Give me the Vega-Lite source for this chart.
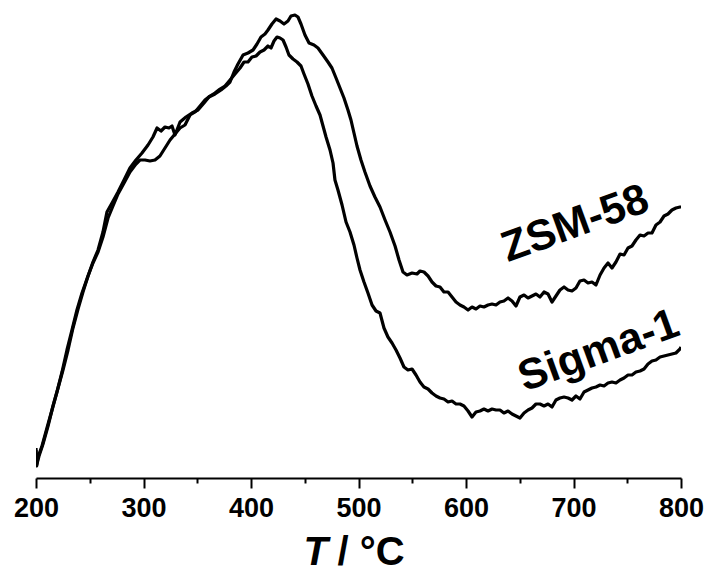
{
  "$schema": "https://vega.github.io/schema/vega-lite/v6.json",
  "autosize": {"type": "none"},
  "width": 645,
  "height": 478,
  "padding": {"left": 36, "top": 0, "right": 27, "bottom": 95},
  "background": "white",
  "config": {"view": {"stroke": null}, "font": "Liberation Sans"},
  "datasets": {
    "curves": [
      {"series":"ZSM-58","T":200.0,"v":28},{"series":"ZSM-58","T":200.6,"v":12},{"series":"ZSM-58","T":201.9,"v":21},{"series":"ZSM-58","T":205.6,"v":32},{"series":"ZSM-58","T":210.2,"v":50},{"series":"ZSM-58","T":214.9,"v":68},{"series":"ZSM-58","T":219.5,"v":86},{"series":"ZSM-58","T":224.2,"v":106},{"series":"ZSM-58","T":228.8,"v":128},{"series":"ZSM-58","T":233.5,"v":148},{"series":"ZSM-58","T":238.1,"v":168},{"series":"ZSM-58","T":242.8,"v":185},{"series":"ZSM-58","T":248.4,"v":202},{"series":"ZSM-58","T":253.0,"v":216},{"series":"ZSM-58","T":257.7,"v":228},{"series":"ZSM-58","T":262.3,"v":246},{"series":"ZSM-58","T":266.0,"v":266},{"series":"ZSM-58","T":270.7,"v":275},{"series":"ZSM-58","T":276.3,"v":286},{"series":"ZSM-58","T":281.9,"v":298},{"series":"ZSM-58","T":287.4,"v":310},{"series":"ZSM-58","T":293.0,"v":318},{"series":"ZSM-58","T":298.6,"v":325},{"series":"ZSM-58","T":304.2,"v":333},{"series":"ZSM-58","T":308.8,"v":341},{"series":"ZSM-58","T":312.6,"v":350},{"series":"ZSM-58","T":316.3,"v":347},{"series":"ZSM-58","T":320.0,"v":351},{"series":"ZSM-58","T":323.7,"v":350},{"series":"ZSM-58","T":326.5,"v":352},{"series":"ZSM-58","T":329.3,"v":343},{"series":"ZSM-58","T":334.0,"v":356},{"series":"ZSM-58","T":339.5,"v":361},{"series":"ZSM-58","T":345.1,"v":365},{"series":"ZSM-58","T":350.7,"v":368},{"series":"ZSM-58","T":356.3,"v":375},{"series":"ZSM-58","T":360.9,"v":381},{"series":"ZSM-58","T":366.5,"v":384},{"series":"ZSM-58","T":372.1,"v":388},{"series":"ZSM-58","T":376.7,"v":392},{"series":"ZSM-58","T":380.5,"v":396},{"series":"ZSM-58","T":384.2,"v":406},{"series":"ZSM-58","T":387.9,"v":414},{"series":"ZSM-58","T":392.6,"v":423},{"series":"ZSM-58","T":397.2,"v":425},{"series":"ZSM-58","T":401.9,"v":428},{"series":"ZSM-58","T":405.6,"v":434},{"series":"ZSM-58","T":409.3,"v":441},{"series":"ZSM-58","T":413.0,"v":444},{"series":"ZSM-58","T":415.8,"v":448},{"series":"ZSM-58","T":419.5,"v":454},{"series":"ZSM-58","T":423.3,"v":459},{"series":"ZSM-58","T":427.0,"v":457},{"series":"ZSM-58","T":430.7,"v":454},{"series":"ZSM-58","T":434.4,"v":457},{"series":"ZSM-58","T":437.2,"v":462},{"series":"ZSM-58","T":440.9,"v":463},{"series":"ZSM-58","T":443.7,"v":461},{"series":"ZSM-58","T":446.5,"v":454},{"series":"ZSM-58","T":450.2,"v":443},{"series":"ZSM-58","T":454.0,"v":435},{"series":"ZSM-58","T":458.6,"v":433},{"series":"ZSM-58","T":462.3,"v":430},{"series":"ZSM-58","T":467.0,"v":423},{"series":"ZSM-58","T":471.6,"v":416},{"series":"ZSM-58","T":475.3,"v":410},{"series":"ZSM-58","T":479.1,"v":400},{"series":"ZSM-58","T":482.8,"v":390},{"series":"ZSM-58","T":486.5,"v":380},{"series":"ZSM-58","T":490.2,"v":368},{"series":"ZSM-58","T":493.0,"v":358},{"series":"ZSM-58","T":495.8,"v":345},{"series":"ZSM-58","T":498.6,"v":332},{"series":"ZSM-58","T":502.3,"v":318},{"series":"ZSM-58","T":506.0,"v":306},{"series":"ZSM-58","T":510.7,"v":292},{"series":"ZSM-58","T":515.3,"v":281},{"series":"ZSM-58","T":520.0,"v":271},{"series":"ZSM-58","T":524.7,"v":258},{"series":"ZSM-58","T":529.3,"v":246},{"series":"ZSM-58","T":534.0,"v":232},{"series":"ZSM-58","T":537.7,"v":218},{"series":"ZSM-58","T":541.4,"v":206},{"series":"ZSM-58","T":545.1,"v":203},{"series":"ZSM-58","T":549.8,"v":205},{"series":"ZSM-58","T":554.4,"v":204},{"series":"ZSM-58","T":557.2,"v":207},{"series":"ZSM-58","T":560.9,"v":206},{"series":"ZSM-58","T":564.7,"v":202},{"series":"ZSM-58","T":568.4,"v":196},{"series":"ZSM-58","T":572.1,"v":192},{"series":"ZSM-58","T":575.8,"v":191},{"series":"ZSM-58","T":579.5,"v":186},{"series":"ZSM-58","T":583.3,"v":186},{"series":"ZSM-58","T":587.0,"v":181},{"series":"ZSM-58","T":590.7,"v":176},{"series":"ZSM-58","T":594.4,"v":173},{"series":"ZSM-58","T":598.1,"v":171},{"series":"ZSM-58","T":601.9,"v":168},{"series":"ZSM-58","T":605.6,"v":171},{"series":"ZSM-58","T":609.3,"v":169},{"series":"ZSM-58","T":613.0,"v":172},{"series":"ZSM-58","T":616.7,"v":171},{"series":"ZSM-58","T":620.5,"v":173},{"series":"ZSM-58","T":624.2,"v":174},{"series":"ZSM-58","T":627.9,"v":173},{"series":"ZSM-58","T":631.6,"v":176},{"series":"ZSM-58","T":635.3,"v":177},{"series":"ZSM-58","T":639.1,"v":180},{"series":"ZSM-58","T":642.8,"v":177},{"series":"ZSM-58","T":646.5,"v":172},{"series":"ZSM-58","T":650.2,"v":181},{"series":"ZSM-58","T":654.0,"v":183},{"series":"ZSM-58","T":657.7,"v":180},{"series":"ZSM-58","T":661.4,"v":182},{"series":"ZSM-58","T":665.1,"v":184},{"series":"ZSM-58","T":668.8,"v":181},{"series":"ZSM-58","T":672.6,"v":186},{"series":"ZSM-58","T":676.3,"v":184},{"series":"ZSM-58","T":680.0,"v":176},{"series":"ZSM-58","T":683.7,"v":182},{"series":"ZSM-58","T":687.4,"v":188},{"series":"ZSM-58","T":691.2,"v":191},{"series":"ZSM-58","T":694.9,"v":188},{"series":"ZSM-58","T":698.6,"v":187},{"series":"ZSM-58","T":702.3,"v":190},{"series":"ZSM-58","T":706.0,"v":197},{"series":"ZSM-58","T":709.8,"v":198},{"series":"ZSM-58","T":713.5,"v":195},{"series":"ZSM-58","T":717.2,"v":196},{"series":"ZSM-58","T":720.9,"v":193},{"series":"ZSM-58","T":724.7,"v":203},{"series":"ZSM-58","T":728.4,"v":210},{"series":"ZSM-58","T":732.1,"v":215},{"series":"ZSM-58","T":735.8,"v":210},{"series":"ZSM-58","T":739.5,"v":216},{"series":"ZSM-58","T":743.3,"v":224},{"series":"ZSM-58","T":747.0,"v":223},{"series":"ZSM-58","T":750.7,"v":230},{"series":"ZSM-58","T":754.4,"v":232},{"series":"ZSM-58","T":758.1,"v":238},{"series":"ZSM-58","T":761.9,"v":243},{"series":"ZSM-58","T":765.6,"v":242},{"series":"ZSM-58","T":769.3,"v":245},{"series":"ZSM-58","T":773.0,"v":245},{"series":"ZSM-58","T":776.7,"v":253},{"series":"ZSM-58","T":780.5,"v":256},{"series":"ZSM-58","T":784.2,"v":262},{"series":"ZSM-58","T":787.9,"v":264},{"series":"ZSM-58","T":791.6,"v":268},{"series":"ZSM-58","T":795.3,"v":270},{"series":"ZSM-58","T":799.1,"v":271},{"series":"ZSM-58","T":800.0,"v":271},
      {"series":"Sigma-1","T":200.0,"v":30},{"series":"Sigma-1","T":200.6,"v":13},{"series":"Sigma-1","T":202.8,"v":22},{"series":"Sigma-1","T":206.5,"v":34},{"series":"Sigma-1","T":211.2,"v":52},{"series":"Sigma-1","T":215.8,"v":72},{"series":"Sigma-1","T":220.5,"v":90},{"series":"Sigma-1","T":225.1,"v":108},{"series":"Sigma-1","T":229.8,"v":128},{"series":"Sigma-1","T":234.4,"v":150},{"series":"Sigma-1","T":239.1,"v":169},{"series":"Sigma-1","T":243.7,"v":186},{"series":"Sigma-1","T":248.4,"v":202},{"series":"Sigma-1","T":253.0,"v":215},{"series":"Sigma-1","T":257.7,"v":226},{"series":"Sigma-1","T":262.3,"v":241},{"series":"Sigma-1","T":267.0,"v":260},{"series":"Sigma-1","T":271.6,"v":272},{"series":"Sigma-1","T":276.3,"v":284},{"series":"Sigma-1","T":281.9,"v":295},{"series":"Sigma-1","T":287.4,"v":306},{"series":"Sigma-1","T":293.0,"v":314},{"series":"Sigma-1","T":296.7,"v":318},{"series":"Sigma-1","T":301.4,"v":318},{"series":"Sigma-1","T":306.0,"v":317},{"series":"Sigma-1","T":310.7,"v":318},{"series":"Sigma-1","T":315.3,"v":322},{"series":"Sigma-1","T":320.0,"v":330},{"series":"Sigma-1","T":324.7,"v":338},{"series":"Sigma-1","T":329.3,"v":344},{"series":"Sigma-1","T":334.0,"v":350},{"series":"Sigma-1","T":338.6,"v":353},{"series":"Sigma-1","T":343.3,"v":363},{"series":"Sigma-1","T":347.9,"v":366},{"series":"Sigma-1","T":352.6,"v":372},{"series":"Sigma-1","T":357.2,"v":378},{"series":"Sigma-1","T":361.9,"v":382},{"series":"Sigma-1","T":366.5,"v":385},{"series":"Sigma-1","T":371.2,"v":389},{"series":"Sigma-1","T":375.8,"v":392},{"series":"Sigma-1","T":380.5,"v":398},{"series":"Sigma-1","T":385.1,"v":404},{"series":"Sigma-1","T":389.8,"v":410},{"series":"Sigma-1","T":393.5,"v":416},{"series":"Sigma-1","T":397.2,"v":416},{"series":"Sigma-1","T":400.9,"v":421},{"series":"Sigma-1","T":404.7,"v":422},{"series":"Sigma-1","T":408.4,"v":426},{"series":"Sigma-1","T":412.1,"v":428},{"series":"Sigma-1","T":415.8,"v":432},{"series":"Sigma-1","T":418.6,"v":430},{"series":"Sigma-1","T":421.4,"v":437},{"series":"Sigma-1","T":424.2,"v":441},{"series":"Sigma-1","T":427.0,"v":440},{"series":"Sigma-1","T":429.8,"v":438},{"series":"Sigma-1","T":432.6,"v":431},{"series":"Sigma-1","T":435.3,"v":423},{"series":"Sigma-1","T":439.1,"v":419},{"series":"Sigma-1","T":442.8,"v":416},{"series":"Sigma-1","T":446.5,"v":412},{"series":"Sigma-1","T":449.3,"v":404},{"series":"Sigma-1","T":453.0,"v":394},{"series":"Sigma-1","T":456.7,"v":382},{"series":"Sigma-1","T":460.5,"v":372},{"series":"Sigma-1","T":464.2,"v":363},{"series":"Sigma-1","T":467.0,"v":352},{"series":"Sigma-1","T":469.8,"v":341},{"series":"Sigma-1","T":473.5,"v":328},{"series":"Sigma-1","T":476.3,"v":315},{"series":"Sigma-1","T":478.1,"v":298},{"series":"Sigma-1","T":480.9,"v":288},{"series":"Sigma-1","T":484.7,"v":273},{"series":"Sigma-1","T":488.4,"v":256},{"series":"Sigma-1","T":492.1,"v":246},{"series":"Sigma-1","T":495.8,"v":233},{"series":"Sigma-1","T":498.6,"v":220},{"series":"Sigma-1","T":501.4,"v":208},{"series":"Sigma-1","T":505.1,"v":196},{"series":"Sigma-1","T":508.8,"v":185},{"series":"Sigma-1","T":512.6,"v":173},{"series":"Sigma-1","T":516.3,"v":167},{"series":"Sigma-1","T":520.0,"v":165},{"series":"Sigma-1","T":523.7,"v":150},{"series":"Sigma-1","T":527.4,"v":141},{"series":"Sigma-1","T":531.2,"v":135},{"series":"Sigma-1","T":534.9,"v":128},{"series":"Sigma-1","T":538.6,"v":120},{"series":"Sigma-1","T":542.3,"v":111},{"series":"Sigma-1","T":546.0,"v":108},{"series":"Sigma-1","T":549.8,"v":109},{"series":"Sigma-1","T":553.5,"v":103},{"series":"Sigma-1","T":557.2,"v":96},{"series":"Sigma-1","T":560.9,"v":91},{"series":"Sigma-1","T":564.7,"v":89},{"series":"Sigma-1","T":568.4,"v":85},{"series":"Sigma-1","T":572.1,"v":82},{"series":"Sigma-1","T":575.8,"v":80},{"series":"Sigma-1","T":579.5,"v":79},{"series":"Sigma-1","T":583.3,"v":76},{"series":"Sigma-1","T":587.0,"v":77},{"series":"Sigma-1","T":590.7,"v":74},{"series":"Sigma-1","T":594.4,"v":74},{"series":"Sigma-1","T":598.1,"v":72},{"series":"Sigma-1","T":601.9,"v":67},{"series":"Sigma-1","T":605.6,"v":61},{"series":"Sigma-1","T":609.3,"v":66},{"series":"Sigma-1","T":613.0,"v":67},{"series":"Sigma-1","T":616.7,"v":69},{"series":"Sigma-1","T":620.5,"v":67},{"series":"Sigma-1","T":624.2,"v":69},{"series":"Sigma-1","T":627.9,"v":68},{"series":"Sigma-1","T":631.6,"v":68},{"series":"Sigma-1","T":635.3,"v":65},{"series":"Sigma-1","T":639.1,"v":67},{"series":"Sigma-1","T":642.8,"v":64},{"series":"Sigma-1","T":646.5,"v":62},{"series":"Sigma-1","T":650.2,"v":60},{"series":"Sigma-1","T":654.0,"v":65},{"series":"Sigma-1","T":657.7,"v":68},{"series":"Sigma-1","T":661.4,"v":70},{"series":"Sigma-1","T":665.1,"v":74},{"series":"Sigma-1","T":668.8,"v":74},{"series":"Sigma-1","T":672.6,"v":72},{"series":"Sigma-1","T":676.3,"v":74},{"series":"Sigma-1","T":680.0,"v":71},{"series":"Sigma-1","T":683.7,"v":78},{"series":"Sigma-1","T":687.4,"v":80},{"series":"Sigma-1","T":691.2,"v":81},{"series":"Sigma-1","T":694.9,"v":80},{"series":"Sigma-1","T":698.6,"v":78},{"series":"Sigma-1","T":702.3,"v":82},{"series":"Sigma-1","T":706.0,"v":79},{"series":"Sigma-1","T":709.8,"v":86},{"series":"Sigma-1","T":713.5,"v":88},{"series":"Sigma-1","T":717.2,"v":90},{"series":"Sigma-1","T":720.9,"v":91},{"series":"Sigma-1","T":724.7,"v":93},{"series":"Sigma-1","T":728.4,"v":92},{"series":"Sigma-1","T":732.1,"v":95},{"series":"Sigma-1","T":735.8,"v":96},{"series":"Sigma-1","T":739.5,"v":95},{"series":"Sigma-1","T":743.3,"v":98},{"series":"Sigma-1","T":747.0,"v":100},{"series":"Sigma-1","T":750.7,"v":103},{"series":"Sigma-1","T":754.4,"v":103},{"series":"Sigma-1","T":758.1,"v":106},{"series":"Sigma-1","T":761.9,"v":107},{"series":"Sigma-1","T":765.6,"v":109},{"series":"Sigma-1","T":769.3,"v":114},{"series":"Sigma-1","T":773.0,"v":117},{"series":"Sigma-1","T":776.7,"v":118},{"series":"Sigma-1","T":780.5,"v":121},{"series":"Sigma-1","T":784.2,"v":122},{"series":"Sigma-1","T":787.9,"v":123},{"series":"Sigma-1","T":791.6,"v":124},{"series":"Sigma-1","T":795.3,"v":125},{"series":"Sigma-1","T":799.1,"v":129},{"series":"Sigma-1","T":800.0,"v":131}
    ],
    "labels": [
      {"label": "ZSM-58", "T": 701.5, "v": 254},
      {"label": "Sigma-1", "T": 723.5, "v": 127}
    ]
  },
  "layer": [
    {
      "data": {"name": "curves"},
      "mark": {"type": "line", "color": "black", "strokeWidth": 3.2, "strokeJoin": "round", "clip": true},
      "encoding": {
        "x": {
          "field": "T", "type": "quantitative",
          "scale": {"domain": [200, 800], "nice": false, "zero": false},
          "axis": {
            "orient": "bottom",
            "values": [200, 300, 400, 500, 600, 700, 800],
            "grid": false,
            "domainColor": "black", "domainWidth": 2,
            "tickColor": "black", "tickWidth": 2, "tickSize": 10,
            "labelFont": "Liberation Sans", "labelFontWeight": "bold", "labelFontSize": 27,
            "labelColor": "black", "labelPadding": 7, "labelFlush": false, "labelOverlap": false,
            "title": "/ °C",
            "titleFont": "Liberation Sans", "titleFontSize": 40, "titleFontWeight": "bold",
            "titleColor": "black", "titleX": 301, "titleY": 86,
            "titleAlign": "left", "titleBaseline": "alphabetic"
          }
        },
        "y": {
          "field": "v", "type": "quantitative",
          "scale": {"domain": [0, 478], "nice": false, "zero": false},
          "axis": null
        },
        "detail": {"field": "series", "type": "nominal"}
      }
    },
    {
      "data": {"name": "labels"},
      "mark": {"type": "text", "font": "Liberation Sans", "fontWeight": "bold", "fontSize": 43, "angle": 340, "align": "center", "baseline": "middle", "color": "black"},
      "encoding": {
        "x": {
          "field": "T", "type": "quantitative",
          "axis": {
            "orient": "bottom",
            "values": [250, 350, 450, 550, 650, 750],
            "grid": false, "domain": false, "labels": false,
            "tickColor": "black", "tickWidth": 2, "tickSize": 5,
            "title": "T",
            "titleFont": "Liberation Sans", "titleFontSize": 40, "titleFontWeight": "bold", "titleFontStyle": "italic",
            "titleColor": "black", "titleX": 267, "titleY": 86,
            "titleAlign": "left", "titleBaseline": "alphabetic"
          }
        },
        "y": {"field": "v", "type": "quantitative"},
        "text": {"field": "label", "type": "nominal"}
      }
    }
  ],
  "resolve": {"axis": {"x": "independent"}}
}
